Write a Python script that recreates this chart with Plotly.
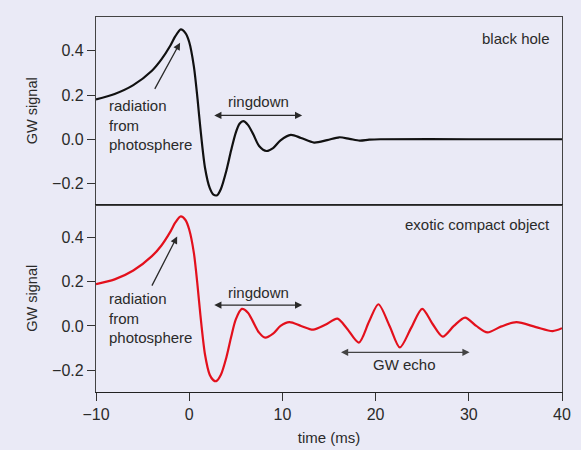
import plotly.graph_objects as go
from plotly.subplots import make_subplots

# Black hole merger waveform: time (ms) and strain amplitude
bh_time = [-10, -8, -6, -4, -3, -2, -1.5, -0.9, -0.4, 0, 0.5, 0.9, 1.2, 1.7, 2.2, 2.6,
           3.0, 3.4, 4.0, 4.5, 5.0, 5.4, 5.8, 6.3, 6.9, 7.5, 8.3, 9.0, 9.8, 10.9,
           12.0, 13.4, 14.8, 16.1, 17.2, 18.3, 19.3, 20.5, 30, 40]
bh_signal = [0.18, 0.205, 0.245, 0.31, 0.36, 0.425, 0.465, 0.497, 0.48, 0.44, 0.33, 0.18,
             0.05, -0.13, -0.22, -0.25, -0.253, -0.225, -0.14, -0.05, 0.03, 0.07, 0.082,
             0.065, 0.02, -0.03, -0.053, -0.04, -0.005, 0.02, 0.006, -0.015, -0.004,
             0.009, 0.002, -0.006, -0.002, 0.0, 0.0, 0.0]

# Exotic compact object: same merger, followed by a train of echoes
eco_time = [-10, -8, -6, -4, -3, -2, -1.5, -0.9, -0.4, 0, 0.5, 0.9, 1.2, 1.7, 2.2, 2.6,
            2.9, 3.4, 4.0, 4.5, 5.0, 5.65, 6.3, 6.9, 7.5, 8.15, 9.0, 9.8, 10.75, 12.0,
            13.3, 14.6, 15.9, 16.9, 18.2, 19.3, 20.3, 21.5, 22.6, 23.8, 25.0, 26.1,
            27.2, 28.4, 29.6, 30.8, 32.0, 33.5, 35.1, 37.2, 39.0, 40.0]
eco_signal = [0.189, 0.21, 0.25, 0.315, 0.362, 0.427, 0.466, 0.494, 0.478, 0.435, 0.33,
              0.18, 0.05, -0.13, -0.22, -0.245, -0.249, -0.22, -0.14, -0.05, 0.03, 0.077,
              0.06, 0.015, -0.03, -0.053, -0.035, 0.0, 0.017, 0.0, -0.017, 0.005, 0.033,
              -0.01, -0.075, 0.02, 0.098, 0.0, -0.097, -0.01, 0.077, 0.01, -0.048, 0.0,
              0.038, 0.0, -0.029, -0.002, 0.017, -0.005, -0.023, -0.01]

x_ticks = [-10, 0, 10, 20, 30, 40]
y_ticks = [-0.2, 0.0, 0.2, 0.4]

BG = "#EAEAF6"
INK = "#2a2a2a"
FONT = "Liberation Sans, Arial, sans-serif"

fig = make_subplots(rows=2, cols=1, shared_xaxes=True, vertical_spacing=0)

fig.add_trace(go.Scatter(x=bh_time, y=bh_signal, mode="lines",
                         line=dict(color="#111111", width=2.2, shape="spline", smoothing=0.8),
                         hoverinfo="skip", showlegend=False), row=1, col=1)
fig.add_trace(go.Scatter(x=eco_time, y=eco_signal, mode="lines",
                         line=dict(color="#E3101C", width=2.2, shape="spline", smoothing=0.8),
                         hoverinfo="skip", showlegend=False), row=2, col=1)

axis_common = dict(showgrid=False, zeroline=False, showline=True, mirror=True,
                   linecolor="#444444", linewidth=1.2, automargin=False)

fig.update_xaxes(range=[-10, 40], **axis_common)
fig.update_xaxes(showticklabels=False, ticks="", row=1, col=1)
fig.update_xaxes(tickvals=x_ticks, ticks="outside", ticklen=8, tickcolor="#333333",
                 linecolor="#222222",
                 tickfont=dict(size=16, color=INK, family=FONT),
                 title=dict(text="time (ms)", font=dict(size=15, color=INK, family=FONT),
                            standoff=10),
                 row=2, col=1)

ytitle = dict(text="GW signal", font=dict(size=14.5, color=INK, family=FONT), standoff=11)
fig.update_yaxes(tickvals=y_ticks, tickformat=".1f", ticks="outside", ticklen=8,
                 tickcolor="#333333", tickfont=dict(size=16, color=INK, family=FONT),
                 title=ytitle, **axis_common)
fig.update_yaxes(range=[-0.295, 0.553], row=1, col=1)
fig.update_yaxes(range=[-0.298, 0.548], row=2, col=1)

annotations = []
text_font = dict(size=15, color=INK, family=FONT)


def label(text, x, y, xref, yref, xanchor="center", align="center"):
    annotations.append(dict(text=text, x=x, y=y, xref=xref, yref=yref, showarrow=False,
                            xanchor=xanchor, yanchor="middle", align=align, font=text_font))


def arrow(x, y, ax, ay, xref, yref, both=False, color=INK):
    annotations.append(dict(text="", x=x, y=y, ax=ax, ay=ay, xref=xref, yref=yref,
                            axref=xref, ayref=yref, showarrow=True, arrowhead=2,
                            arrowsize=1.1, arrowwidth=1.3, arrowcolor=color,
                            arrowside="end+start" if both else "end",
                            standoff=0, startstandoff=0))


for xr, yr, cap, text_y, ring_y, ring_arrow_y, tail, head in [
    ("x", "y", "black hole", 0.456, 0.171, 0.108, (-3.78, 0.221), (-0.98, 0.437)),
    ("x2", "y2", "exotic compact object", 0.457, 0.151, 0.094, (-4.08, 0.175), (-1.29, 0.404)),
]:
    label(cap, 38.9, text_y, xr, yr, xanchor="right")
    label("radiation<br>from<br>photosphere", -8.85, 0.063 if xr == "x" else 0.035,
          xr, yr, xanchor="left", align="left")
    arrow(head[0], head[1], tail[0], tail[1], xr, yr)
    label("ringdown", 7.47, ring_y, xr, yr)
    arrow(12.12, ring_arrow_y, 2.53, ring_arrow_y, xr, yr, both=True)

label("GW echo", 23.1, -0.176, "x2", "y2")
arrow(30.08, -0.119, 16.13, -0.119, "x2", "y2", both=True, color="#444444")

fig.update_layout(
    width=581, height=450,
    margin=dict(l=96, r=19, t=17, b=58),
    paper_bgcolor=BG, plot_bgcolor=BG,
    font=dict(family=FONT, color=INK),
    annotations=annotations,
)

fig.write_html("out.html")
